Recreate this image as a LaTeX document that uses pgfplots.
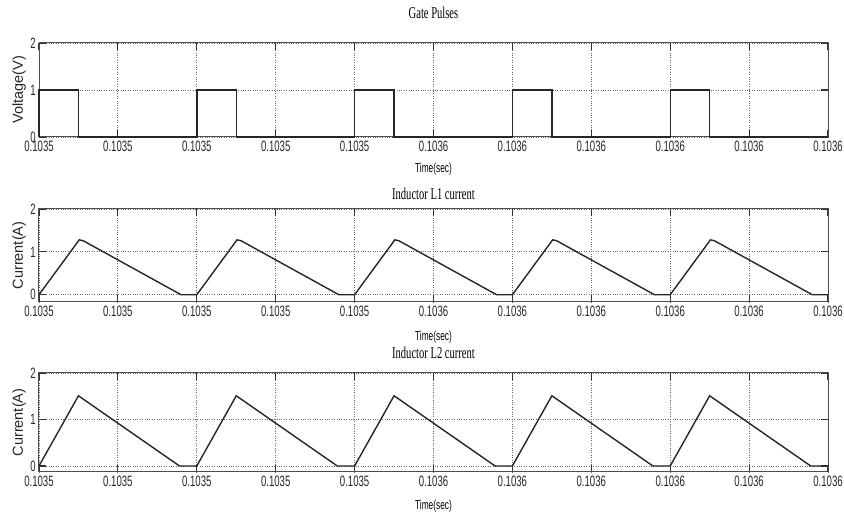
\documentclass[border=0pt]{standalone}
\usepackage{fontspec}
\usepackage{pgfplots}
\pgfplotsset{compat=1.18}

\newfontfamily\tickfont[FakeStretch=0.64]{Liberation Sans}
\newfontfamily\labfont{Liberation Sans}
\newfontfamily\titfont[FakeStretch=0.64]{Liberation Serif}

\pgfplotsset{
  scope/.style={
    scale only axis,
    width=789pt,
    anchor=south west,
    xmin=0, xmax=10, ymax=2,
    clip=false,
    xtick={0,...,10},
    xticklabels={0.1035,0.1035,0.1035,0.1035,0.1035,0.1036,0.1036,0.1036,0.1036,0.1036,0.1036},
    ytick={0,1,2},
    yticklabels={0,1,2},
    grid=major,
    grid style={dotted, line width=0.9pt, black!60},
    tick align=inside,
    major tick length=7pt,
    tick style={line width=1.1pt, black!80},
    axis line style={line width=1pt, black!70},
    xticklabel style={font=\tickfont\fontsize{15}{15}\selectfont, inner sep=0pt, yshift=-4pt, text=black!85},
    yticklabel style={font=\tickfont\fontsize{15}{15}\selectfont, inner sep=0pt, xshift=-3pt, text=black!85},
    xlabel={Time(sec)},
    ylabel style={font=\labfont\fontsize{14.5}{14.5}\selectfont, at={(axis description cs:-0.0253,0.5)}, anchor=center, text=black!85},
    title style={font=\titfont\fontsize{16.5}{16.5}\selectfont, at={(axis description cs:0.5,1)}, anchor=base},
  },
  wave/.style={black!85, line width=1.4pt, mark=none},
}

\begin{document}
\begin{tikzpicture}
\useasboundingbox (0,0) rectangle (844pt,514pt);

% gate pulses
\begin{axis}[scope, at={(39pt,377pt)}, height=94pt, ymin=0,
  ylabel={Voltage(V)},
  title={Gate Pulses}, title style={yshift=18pt},
  xlabel style={font=\tickfont\fontsize{13}{13}\selectfont, at={(axis description cs:0.5,0)}, anchor=base, yshift=-36pt}]
\addplot[wave] coordinates {
  (0,0) (0,1) (0.5,1) (0.5,0) (2,0) (2,1) (2.5,1) (2.5,0)
  (4,0) (4,1) (4.5,1) (4.5,0) (6,0) (6,1) (6.5,1) (6.5,0)
  (8,0) (8,1) (8.5,1) (8.5,0) (10,0)
};
\end{axis}

% inductor L1
\begin{axis}[scope, at={(39pt,212pt)}, height=93pt, ymin=-0.17,
  ylabel={Current(A)},
  title={Inductor L1 current}, title style={yshift=3pt},
  xlabel style={font=\tickfont\fontsize{13}{13}\selectfont, at={(axis description cs:0.5,0)}, anchor=base, yshift=-39pt}]
\addplot[wave] coordinates {
  (0,0) (0.51,1.28) (0.56,1.26) (1.8,0) (2,0)
  (2.51,1.28) (2.56,1.26) (3.8,0) (4,0)
  (4.51,1.28) (4.56,1.26) (5.8,0) (6,0)
  (6.51,1.28) (6.56,1.26) (7.8,0) (8,0)
  (8.51,1.28) (8.56,1.26) (9.8,0) (10,0)
};
\end{axis}

% inductor L2
\begin{axis}[scope, at={(39pt,42pt)}, height=99pt, ymin=-0.13,
  ylabel={Current(A)},
  title={Inductor L2 current}, title style={yshift=8pt},
  xlabel style={font=\tickfont\fontsize{13}{13}\selectfont, at={(axis description cs:0.5,0)}, anchor=base, yshift=-38pt}]
\addplot[wave] coordinates {
  (0,0) (0.5,1.51) (1.78,0) (2,0)
  (2.5,1.51) (3.78,0) (4,0)
  (4.5,1.51) (5.78,0) (6,0)
  (6.5,1.51) (7.78,0) (8,0)
  (8.5,1.51) (9.78,0) (10,0)
};
\end{axis}
\end{tikzpicture}
\end{document}
